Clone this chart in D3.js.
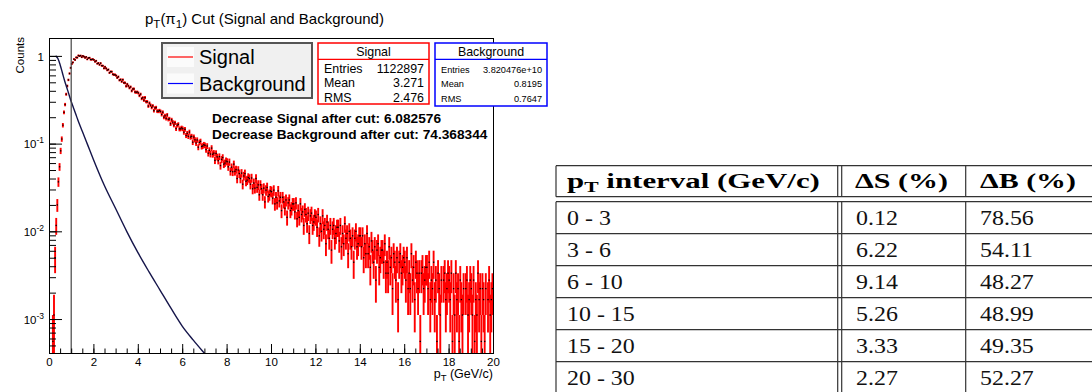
<!DOCTYPE html>
<html><head><meta charset="utf-8">
<script src="https://cdn.jsdelivr.net/npm/d3@7"></script>
<style>html,body{margin:0;padding:0;background:#fff;} svg{display:block;}</style>
</head><body>
<svg id="c" width="1092" height="392"></svg>
<script>
// ---------------- data ----------------
const binLow = 0, binWidth = 0.05;      // signal histogram binning (GeV/c)
const peakCounts = 1800;                // counts in the peak bin (normalised to 1)
const sigCounts = [
0,0,0,1,2,9,21,36,66,98,
149,203,292,409,502,658,818,959,1134,1317,
1462,1516,1652,1621,1727,1723,1818,1792,1816,1740,
1801,1770,1715,1755,1646,1706,1717,1637,1636,1651,
1621,1549,1583,1472,1491,1429,1486,1394,1390,1299,
1351,1296,1238,1258,1156,1193,1190,1111,1098,1098,
1074,1015,1042,952,968,918,964,890,887,813,
858,819,777,798,719,755,757,698,692,698,
681,635,659,587,601,562,602,542,541,482,
521,494,465,485,428,459,464,422,421,428,
419,387,410,360,374,349,382,341,345,303,
336,316,293,311,267,292,298,265,265,272,
266,243,262,223,236,218,244,214,218,187,
214,199,183,198,164,186,191,167,169,175,
172,154,169,140,151,137,160,136,140,116,
139,127,115,128,101,119,125,105,108,114,
112,98,111,87,97,86,105,87,91,72,
90,82,72,83,62,77,82,67,69,74,
72,62,73,55,64,56,72,57,61,47,
61,55,47,56,39,53,57,45,47,52,
51,43,53,37,44,38,52,40,44,31,
44,39,33,41,26,38,41,31,33,37,
37,30,38,25,31,26,37,28,30,21,
32,28,22,29,17,27,29,21,23,27,
26,20,28,16,22,18,27,19,21,13,
23,19,15,21,11,19,21,15,17,20,
20,14,21,12,17,13,22,15,17,10,
18,15,12,16,8,15,18,12,13,16,
16,12,16,9,13,10,17,10,12,7,
14,11,8,12,5,11,13,7,9,11,
11,8,13,6,8,6,12,7,9,4,
10,8,5,9,3,8,10,6,7,9,
8,5,9,4,6,4,10,5,7,3,
8,6,4,6,1,6,7,4,5,7,
7,4,8,3,5,4,8,3,5,1,
6,4,2,5,0,5,6,3,4,6,
5,3,6,1,4,2,6,3,4,1,
5,3,2,4,0,4,5,2,3,5,
4,2,5,1,3,2,6,3,4,1,
4,3,1,4,0,3,5,2,3,4
];
const bgPt  = [0.3,0.4,0.5,0.6,0.7,0.8,0.9,1.0,1.1,1.2,1.3,1.5,1.75,2.0,2.5,3.0,3.5,4.0,4.5,5.0,5.5,6.0,6.5,7.0,7.2];
const bgVal = [1.0,0.933,0.794,0.646,0.525,0.437,0.363,0.302,0.257,0.219,0.186,0.138,0.0955,0.0661,0.0331,0.0182,0.0100,0.00575,0.00347,0.00214,0.00132,0.000832,0.000575,0.000407,0.000355];
const cutPt = 1.0;
const xTickValues = [0,2,4,6,8,10,12,14,16,18,20];
const yTickValues = [1e-3,1e-2,1e-1,1];
const legendLabels = ["Signal","Background"];
const statNames = ["Entries","Mean","RMS"];
const sigStatVals = ["1122897","3.271","2.476"];
const bgStatVals = ["3.820476e+10","0.8195","0.7647"];
const cutTexts = ["Decrease Signal after cut: 6.082576","Decrease Background after cut: 74.368344"];
const tableIntervals = ["0 - 3","3 - 6","6 - 10","10 - 15","15 - 20","20 - 30"];
const tableDS = ["0.12","6.22","9.14","5.26","3.33","2.27"];
const tableDB = ["78.56","54.11","48.27","48.99","49.35","52.27"];

// ---------------- layout ----------------
const svg = d3.select("#c");
const SANS = "'Liberation Sans', Arial, Helvetica, sans-serif";
const SERIF = "'Liberation Serif', 'Times New Roman', serif";
const P = {l:49, r:493, t:38, b:353};
const x = d3.scaleLinear().domain([0,20]).range([P.l,P.r]);
const y = d3.scaleLog().domain([4.1e-4,1.6]).range([P.b,P.t]);

svg.append("defs").append("clipPath").attr("id","clip")
  .append("rect").attr("x",P.l).attr("y",P.t).attr("width",P.r-P.l).attr("height",P.b-P.t);

// title
const title = svg.append("text").attr("x",145).attr("y",24).attr("font-family",SANS).attr("font-size",15).attr("fill","#000");
title.append("tspan").text("p");
title.append("tspan").attr("font-size",11.5).attr("dy",4).text("T");
title.append("tspan").attr("dy",-4).text("(\u03c0");
title.append("tspan").attr("font-size",11.5).attr("dy",4).text("1");
title.append("tspan").attr("dy",-4).text(") Cut (Signal and Background)");

// data layer
const plot = svg.append("g").attr("clip-path","url(#clip)");
const sig = sigCounts.map((n,i)=>({
  lo: binLow + i*binWidth, hi: binLow + (i+1)*binWidth, c: binLow + (i+0.5)*binWidth,
  v: n/peakCounts, e: Math.sqrt(n)/peakCounts
})).filter(d=>d.v>0);
const yMin = y.domain()[0];
const eg = plot.append("g").attr("stroke","#ff0000").attr("fill","none");
eg.selectAll("line.v").data(sig).join("line").attr("class","v").attr("stroke-width",1.9)
  .attr("x1",d=>x(d.c)).attr("x2",d=>x(d.c))
  .attr("y1",d=>y(Math.max(d.v-d.e, yMin*0.3))).attr("y2",d=>y(d.v+d.e));
eg.selectAll("line.h").data(sig).join("line").attr("class","h").attr("stroke-width",1.3)
  .attr("x1",d=>x(d.lo)).attr("x2",d=>x(d.hi))
  .attr("y1",d=>y(d.v)).attr("y2",d=>y(d.v));
plot.append("g").selectAll("rect").data(sig).join("rect")
  .attr("x",d=>x(d.c)-0.65).attr("y",d=>y(d.v)-0.65).attr("width",1.3).attr("height",1.3).attr("fill","#000");

const bgData = bgPt.map((p,i)=>[p,bgVal[i]]);
const bgLine = d3.line().x(d=>x(d[0])).y(d=>y(d[1])).curve(d3.curveMonotoneX);
plot.append("path").attr("d",bgLine(bgData)).attr("fill","none").attr("stroke","#15154a").attr("stroke-width",1.4);

// cut line
svg.append("line").attr("x1",x(cutPt)).attr("x2",x(cutPt)).attr("y1",P.t).attr("y2",P.b)
  .attr("stroke","#444").attr("stroke-width",1.2);

// axes (ticks inside)
const xMinor = d3.range(0,20.001,0.5);
const gx = svg.append("g").attr("transform",`translate(0,${P.b})`);
gx.call(d3.axisBottom(x).tickValues(xMinor).tickSizeInner(-4.5).tickSizeOuter(0).tickFormat(""));
gx.call(g=>g.select(".domain").remove());
const gx2 = svg.append("g").attr("transform",`translate(0,${P.b})`);
gx2.call(d3.axisBottom(x).tickValues(xTickValues).tickSizeInner(-9).tickSizeOuter(0).tickPadding(4.5).tickFormat(d3.format("d")));
gx2.call(g=>g.select(".domain").remove());
svg.selectAll("g.tick line").attr("stroke","#000");
gx2.selectAll("text").attr("font-family",SANS).attr("font-size",11.5).attr("fill","#000");

const yMinor = y.ticks().filter(v=>v>=yMin && v<=1.6);
const gy = svg.append("g").attr("transform",`translate(${P.l},0)`);
gy.call(d3.axisLeft(y).tickValues(yMinor).tickSizeInner(-7).tickSizeOuter(0).tickFormat(""));
gy.call(g=>g.select(".domain").remove());
const gy2 = svg.append("g").attr("transform",`translate(${P.l},0)`);
gy2.call(d3.axisLeft(y).tickValues(yTickValues).tickSizeInner(-13).tickSizeOuter(0).tickPadding(5).tickFormat(""));
gy2.call(g=>g.select(".domain").remove());
gy.selectAll("line").attr("stroke","#000"); gy2.selectAll("line").attr("stroke","#000");
gy2.selectAll("g.tick text").attr("font-family",SANS).attr("font-size",11.5).attr("fill","#000").attr("dy","0.36em")
  .each(function(d){
    const t = d3.select(this);
    const ex = Math.round(Math.log10(d));
    if (ex === 0) { t.text("1"); }
    else {
      t.append("tspan").text("10");
      t.append("tspan").attr("font-size",8.5).attr("dy",-5).text(String(ex));
    }
  });

// frame
svg.append("rect").attr("x",P.l+0.5).attr("y",P.t+0.5).attr("width",P.r-P.l).attr("height",P.b-P.t)
  .attr("fill","none").attr("stroke","#000").attr("stroke-width",1);

// axis titles
svg.append("text").attr("transform","translate(23.5,37) rotate(-90)").attr("text-anchor","end")
  .attr("font-family",SANS).attr("font-size",11.5).text("Counts");
const xt = svg.append("text").attr("x",P.r).attr("y",377.5).attr("text-anchor","end").attr("font-family",SANS).attr("font-size",12.5);
xt.append("tspan").text("p");
xt.append("tspan").attr("font-size",9.5).attr("dy",3.5).text("T");
xt.append("tspan").attr("dy",-3.5).text(" (GeV/c)");

// legend
const lg = svg.append("g");
lg.append("rect").attr("x",162).attr("y",43).attr("width",150).attr("height",55)
  .attr("fill","#f0f0f0").attr("stroke","#555").attr("stroke-width",2);
const legColors = ["#ff0000","#0000ff"];
legendLabels.forEach((lab,i)=>{
  const yy = 57 + i*26.5;
  lg.append("rect").attr("x",167).attr("y",yy-10).attr("width",27).attr("height",20).attr("fill","#fbfbfb");
  lg.append("line").attr("x1",168).attr("x2",193).attr("y1",yy).attr("y2",yy).attr("stroke",legColors[i]).attr("stroke-width",1.2);
  lg.append("text").attr("x",199).attr("y",yy+7).attr("font-family",SANS).attr("font-size",20).attr("fill","#000").text(lab);
});

// stats boxes
function statBox(x0, w, h, color, header, vals, fs){
  const g = svg.append("g");
  g.append("rect").attr("x",x0).attr("y",43).attr("width",w).attr("height",h).attr("fill","#fff").attr("stroke",color).attr("stroke-width",1.5);
  g.append("line").attr("x1",x0).attr("x2",x0+w).attr("y1",59.3).attr("y2",59.3).attr("stroke",color).attr("stroke-width",1.2);
  g.append("text").attr("x",x0+w/2).attr("y",56).attr("text-anchor","middle").attr("font-family",SANS).attr("font-size",12.4).text(header);
  const ys = [72.5, 87.3, 102];
  statNames.forEach((n,i)=>{
    g.append("text").attr("x",x0+6).attr("y",ys[i]).attr("font-family",SANS).attr("font-size",fs).text(n);
    g.append("text").attr("x",x0+w-5).attr("y",ys[i]).attr("text-anchor","end").attr("font-family",SANS).attr("font-size",fs).text(vals[i]);
  });
}
statBox(318, 111, 61, "#ff0000", legendLabels[0], sigStatVals, 12.4);
statBox(435, 112, 63, "#0000ff", legendLabels[1], bgStatVals, 9.2);

// cut texts
cutTexts.forEach((t,i)=>{
  svg.append("text").attr("x",212).attr("y",122.5+i*16.8).attr("font-family",SANS).attr("font-weight","bold").attr("font-size",13.7).text(t);
});

// ---------------- table ----------------
const T = {l:556, r:1092, top:165.7, hb:196.7, bt:201.7, rowH:32};
const colX = [556, 837.7, 841.7, 965.7];
const tg = svg.append("g").attr("stroke","#333").attr("stroke-width",1.2);
const rowY = d3.scaleLinear().domain([0,1]).range([T.bt, T.bt+T.rowH]);
const hLines = [T.top, T.hb, ...d3.range(0, tableIntervals.length+1).map(i=>rowY(i))];
hLines.forEach(yy=>tg.append("line").attr("x1",T.l).attr("x2",T.r).attr("y1",yy).attr("y2",yy));
colX.forEach(cx=>{
  tg.append("line").attr("x1",cx).attr("x2",cx).attr("y1",T.top).attr("y2",T.hb);
  tg.append("line").attr("x1",cx).attr("x2",cx).attr("y1",T.bt).attr("y2",rowY(tableIntervals.length));
});
function fitText(g, target){
  const t = g.select("text").node();
  const w = t.getComputedTextLength();
  return w>0 ? target/w : 1;
}
// header
const hdr = [
  {x:567, w:253, parts:[["p",0],["T",1],[" interval (GeV/c)",0]]},
  {x:855, w:93, parts:[["\u0394S (%)",0]]},
  {x:980, w:96, parts:[["\u0394B (%)",0]]}
];
hdr.forEach(h=>{
  const g = svg.append("g");
  const t = g.append("text").attr("x",0).attr("y",0).attr("font-family",SERIF).attr("font-weight","bold").attr("font-size",20);
  let sub=false;
  h.parts.forEach(([s,isSub])=>{
    const sp = t.append("tspan").text(s);
    if (isSub) { sp.attr("font-size",14).attr("dy",3.5); sub=true; }
    else if (sub) { sp.attr("dy",-3.5); sub=false; }
  });
  const s = fitText(g, h.w);
  g.attr("transform",`translate(${h.x},188.3) scale(${s},1)`);
});
// body
const bodyCols = [{x:567, vals:tableIntervals},{x:856, vals:tableDS},{x:980, vals:tableDB}];
bodyCols.forEach(col=>{
  col.vals.forEach((v,i)=>{
    svg.append("g").attr("transform",`translate(${col.x},${rowY(i)+23}) scale(1.14,1)`)
      .append("text").attr("font-family",SERIF).attr("font-size",21).attr("fill","#111").text(v);
  });
});
</script>
</body></html>
